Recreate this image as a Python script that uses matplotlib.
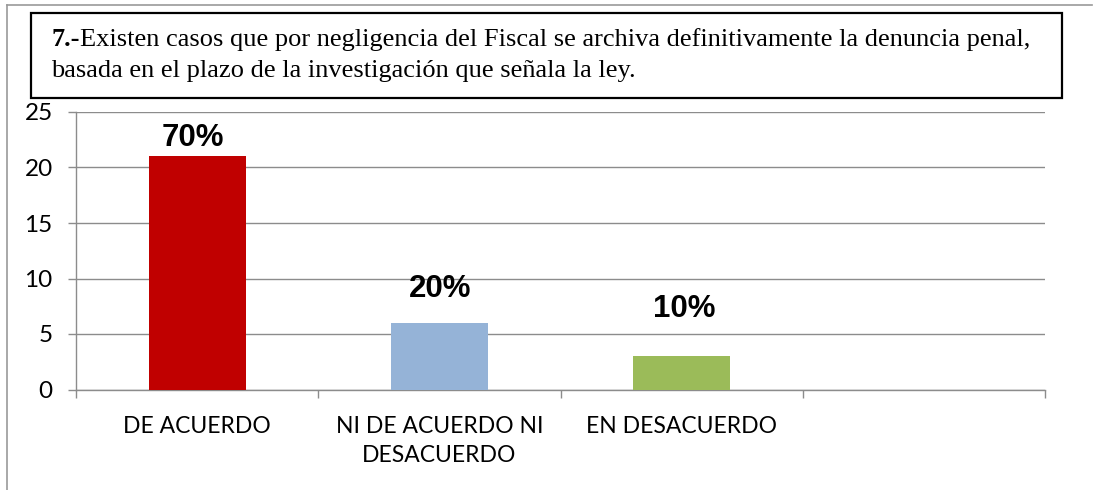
import matplotlib
matplotlib.use("Agg")
import matplotlib.pyplot as plt
from matplotlib.patches import Rectangle
from matplotlib.lines import Line2D

categories = ["DE ACUERDO", "NI DE ACUERDO NI\nDESACUERDO", "EN DESACUERDO", ""]
values = [21, 6, 3]
pct_labels = ["70%", "20%", "10%"]
bar_colors = ["#C00000", "#95B3D7", "#9BBB59"]
yticks = [0, 5, 10, 15, 20, 25]
title_bold = "7.-"
title_line1 = "Existen casos que por negligencia del Fiscal se archiva definitivamente la denuncia penal,"
title_line2 = "basada en el plazo de la investigación que señala la ley."

W, H = 1097, 490
fig = plt.figure(figsize=(W / 100, H / 100), dpi=100)

def fx(px):
    return px / W

def fy(py):
    return 1 - py / H

# outer frame (left and top)
fig.add_artist(Line2D([fx(7), fx(7)], [fy(5), 0], color="#999999", lw=1.2))
fig.add_artist(Line2D([fx(7), fx(1092)], [fy(5), fy(5)], color="#999999", lw=1.2))

# title box
fig.add_artist(Rectangle((fx(31), fy(98)), fx(1062) - fx(31), fy(13) - fy(98),
                         fill=False, edgecolor="black", lw=1.6))
serif = "Liberation Serif"
tsize = 19
t1 = fig.text(fx(51.5), fy(46), title_bold, fontsize=tsize, fontweight="bold",
              family=serif, va="baseline", ha="left")
fig.canvas.draw()
ext = t1.get_window_extent(renderer=fig.canvas.get_renderer())
fig.text(ext.x1 / W, fy(46), title_line1, fontsize=tsize, family=serif,
         va="baseline", ha="left")
fig.text(fx(51.5), fy(77), title_line2, fontsize=tsize, family=serif,
         va="baseline", ha="left")

# axes
ax = fig.add_axes([fx(76), 1 - 389.5 / H, fx(1045) - fx(76), 277.5 / H])
x = list(range(len(categories)))
ax.bar(x[:len(values)], values, width=0.4, color=bar_colors, zorder=3)
ax.set_xlim(-0.5, len(categories) - 0.5)
ax.set_ylim(0, 25)
ax.set_yticks(yticks)
ax.yaxis.grid(True, color="#8C8C8C", lw=1.0, zorder=0)
ax.set_axisbelow(True)
for s in ["top", "right"]:
    ax.spines[s].set_visible(False)
for s in ["left", "bottom"]:
    ax.spines[s].set_color("#8C8C8C")
    ax.spines[s].set_linewidth(1.0)

ax.set_xticks([i - 0.5 for i in range(len(categories) + 1)])
ax.set_xticklabels([])
ax.set_xticks(x, minor=True)
ax.set_xticklabels(categories, minor=True, fontsize=16.5, family="Lato", linespacing=1.45)
ax.tick_params(axis="x", which="major", length=5.5, color="#8C8C8C", width=1.0)
ax.tick_params(axis="x", which="minor", length=0, pad=19)
ax.tick_params(axis="y", length=5.8, color="#8C8C8C", width=1.0, labelsize=17.5, pad=11)
for lab in ax.get_yticklabels():
    lab.set_family("Lato")

offsets = [18, 34, 47]
label_dx = [-4, 1, 3]
for i, (v, lab) in enumerate(zip(values, pct_labels)):
    ax.annotate(lab, xy=(i, v), xytext=(label_dx[i], offsets[i]), textcoords="offset pixels",
                ha="center", va="center", fontsize=22.5, fontweight="bold",
                family="Liberation Sans", zorder=4)

fig.savefig("out.png", dpi=100)
